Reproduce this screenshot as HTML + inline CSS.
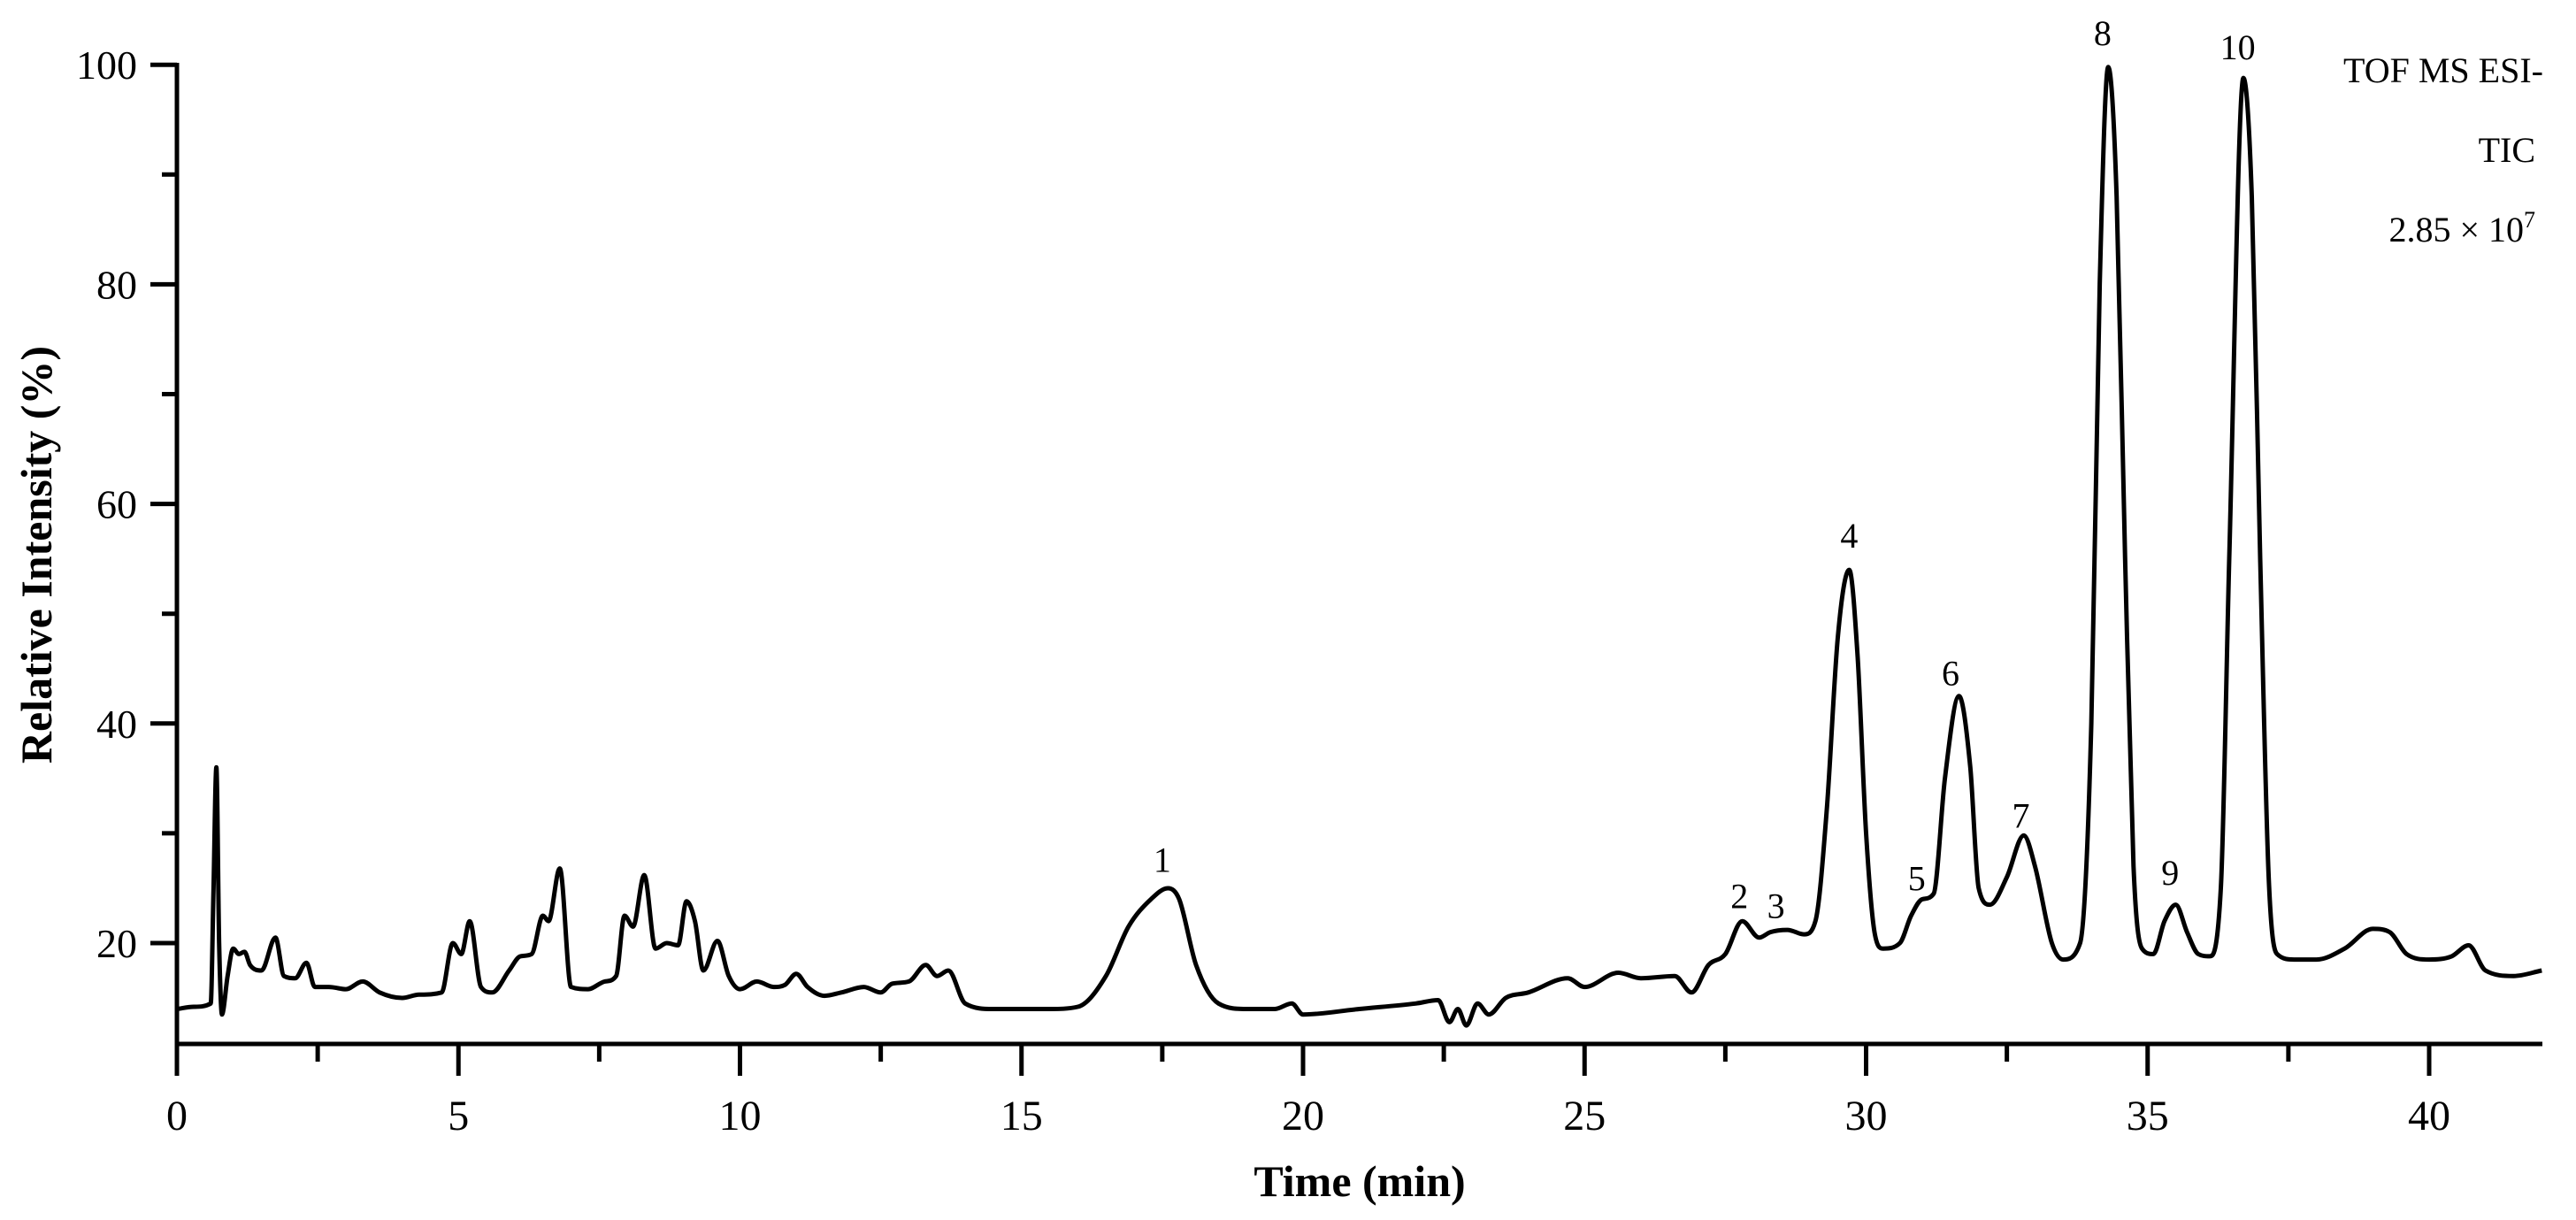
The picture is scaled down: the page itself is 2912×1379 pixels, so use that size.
<!DOCTYPE html>
<html><head><meta charset="utf-8"><style>
html,body{margin:0;padding:0;background:#fff;}
svg text{font-family:"Liberation Serif",serif;fill:#000;}
</style></head><body>
<svg id="chart" width="2912" height="1374" viewBox="0 0 2912 1374" xmlns="http://www.w3.org/2000/svg">
<g id="axes"></g>
<path id="trace" fill="none" stroke="#000" stroke-width="5" stroke-linejoin="round"/>
<g id="labels"></g>
<text x="1537" y="1352" font-size="50" font-weight="bold" text-anchor="middle">Time (min)</text>
<text transform="translate(58,627) rotate(-90)" font-size="50" font-weight="bold" text-anchor="middle">Relative Intensity (%)</text>
<text x="2875" y="93" font-size="40" text-anchor="end">TOF MS ESI-</text>
<text x="2866" y="183" font-size="40" text-anchor="end">TIC</text>
<text x="2866" y="273" font-size="40" text-anchor="end">2.85 × 10<tspan dy="-16" font-size="26">7</tspan></text>
</svg>
<script>
const times=[0,0.3,0.6,0.65,0.7,0.75,0.8,0.9,1.0,1.1,1.2,1.3,1.5,1.75,1.9,2.1,2.3,2.45,2.7,3.0,3.3,3.6,4.0,4.3,4.7,4.9,5.05,5.2,5.4,5.6,5.9,6.1,6.3,6.5,6.6,6.8,7.0,7.3,7.6,7.8,7.95,8.1,8.3,8.5,8.7,8.9,9.05,9.2,9.35,9.6,9.8,10.0,10.3,10.6,10.8,11.0,11.2,11.5,11.8,12.2,12.5,12.7,13.0,13.3,13.5,13.7,14.0,14.5,15,15.5,16,16.5,16.9,17.3,17.6,17.8,18.1,18.5,19,19.5,19.8,20,21,22,22.4,22.6,22.75,22.9,23.1,23.3,23.6,24,24.7,25,25.6,26,26.6,26.9,27.2,27.5,27.8,28.1,28.3,28.6,28.9,29.1,29.3,29.5,29.7,29.85,30.0,30.15,30.3,30.6,30.8,31.0,31.2,31.4,31.65,31.85,32.0,32.2,32.5,32.8,33.0,33.3,33.5,33.8,34.0,34.15,34.3,34.45,34.6,34.75,34.9,35.1,35.3,35.5,35.7,35.9,36.1,36.3,36.45,36.7,36.85,37.0,37.15,37.3,37.6,38,38.5,39,39.3,39.6,40,40.4,40.7,41,41.5,42];
const intensity=[14,14.2,14.5,25,36,20,13.5,17,19.5,19,19.2,18,17.5,20.5,17,16.8,18.2,16,16,15.8,16.5,15.5,15,15.3,15.5,20,19,22,16,15.5,17.5,18.8,19,22.5,22,26.8,16,15.8,16.5,17,22.5,21.5,26.2,19.5,20,19.8,23.8,22,17.5,20.2,17,15.8,16.5,16,16.2,17.2,16,15.2,15.5,16,15.5,16.3,16.5,18,17,17.5,14.5,14,14,14,14.2,17,21.5,24,25,24,18,14.5,14,14,14.5,13.5,14,14.5,14.8,12.8,14,12.5,14.5,13.5,15,15.5,16.8,16,17.3,16.8,17,15.5,18,19,22,20.5,21,21.2,20.8,22,32,48,54,46,30,21,19.5,20,22.5,24,24.5,35,42.5,36,25,23.5,26,29.8,27,20,18.5,20,40,80,99.8,88,55,27,19.5,19,22,23.5,21,19,18.8,25,55,98.8,88,55,26,19,18.5,18.5,19.5,21.3,21,19,18.5,18.8,19.8,17.5,17,17.5];
const peakNames=["1","2","3","4","5","6","7","8","9","10"];
const peakTimes=[17.5,27.75,28.4,29.7,30.9,31.5,32.75,34.2,35.4,36.6];
const peakLabelY=[26.5,23.2,22.3,56,24.8,43.5,30.5,101.8,25.3,100.5];
const xTicks=[0,5,10,15,20,25,30,35,40];
const yTicks=[20,40,60,80,100];
const X0=200,XMIN=0,XMAX=42,PXPERMIN=63.65;
const Y20=1066,PXPERUNIT=12.41,AXY=1180,XEND=2874,YTOP=73;
function sx(t){return X0+(t-XMIN)*PXPERMIN;}
function sy(v){return Y20-(v-20)*PXPERUNIT;}
const NS="http://www.w3.org/2000/svg";
const ax=document.getElementById('axes');
function line(x1,y1,x2,y2,name){const l=document.createElementNS(NS,'line');l.setAttribute('x1',x1);l.setAttribute('y1',y1);l.setAttribute('x2',x2);l.setAttribute('y2',y2);l.setAttribute('stroke','#000');l.setAttribute('stroke-width',5);


ax.appendChild(l);}
function txt(x,y,s,anchor,size,parent,name){const t=document.createElementNS(NS,'text');t.setAttribute('x',x);t.setAttribute('y',y);t.setAttribute('text-anchor',anchor);t.setAttribute('font-size',size);t.textContent=s;


parent.appendChild(t);}
line(X0,YTOP-2,X0,AXY+2,'y-axis-line');
line(X0-2,AXY,XEND,AXY,'x-axis-line');
xTicks.forEach(t=>{line(sx(t),AXY,sx(t),1216,'x-tick');txt(sx(t),1277,String(t),'middle',48,ax,'x-tick-label');});
for(let t=2.5;t<XMAX;t+=5){line(sx(t),AXY,sx(t),1200,'x-minor-tick');}
yTicks.forEach(v=>{line(170,sy(v),X0,sy(v),'y-tick');txt(155,sy(v)+16,String(v),'end',46,ax,'y-tick-label');});
for(let v=30;v<100;v+=20){line(183,sy(v),X0,sy(v),'y-minor-tick');}
// monotone cubic interpolation (Fritsch-Carlson)
const px=times.map(sx), py=intensity.map(sy), n=px.length;
const dk=[],m=new Array(n);
for(let i=0;i<n-1;i++)dk.push((py[i+1]-py[i])/(px[i+1]-px[i]));
m[0]=dk[0];m[n-1]=dk[n-2];
for(let i=1;i<n-1;i++){m[i]=(dk[i-1]*dk[i]<=0)?0:(dk[i-1]+dk[i])/2;}
for(let i=0;i<n-1;i++){if(dk[i]===0){m[i]=0;m[i+1]=0;continue;}const a=m[i]/dk[i],b=m[i+1]/dk[i],s=a*a+b*b;if(s>9){const t=3/Math.sqrt(s);m[i]=t*a*dk[i];m[i+1]=t*b*dk[i];}}
let d='M'+px[0].toFixed(1)+','+py[0].toFixed(1);
for(let i=0;i<n-1;i++){const h=(px[i+1]-px[i])/3;d+='C'+(px[i]+h).toFixed(1)+','+(py[i]+m[i]*h).toFixed(1)+' '+(px[i+1]-h).toFixed(1)+','+(py[i+1]-m[i+1]*h).toFixed(1)+' '+px[i+1].toFixed(1)+','+py[i+1].toFixed(1);}
document.getElementById('trace').setAttribute('d',d);
const lg=document.getElementById('labels');
peakNames.forEach((nm,i)=>{txt(sx(peakTimes[i]),sy(peakLabelY[i]),nm,'middle',40,lg,'peak-label-'+nm);});
</script>
</body></html>
